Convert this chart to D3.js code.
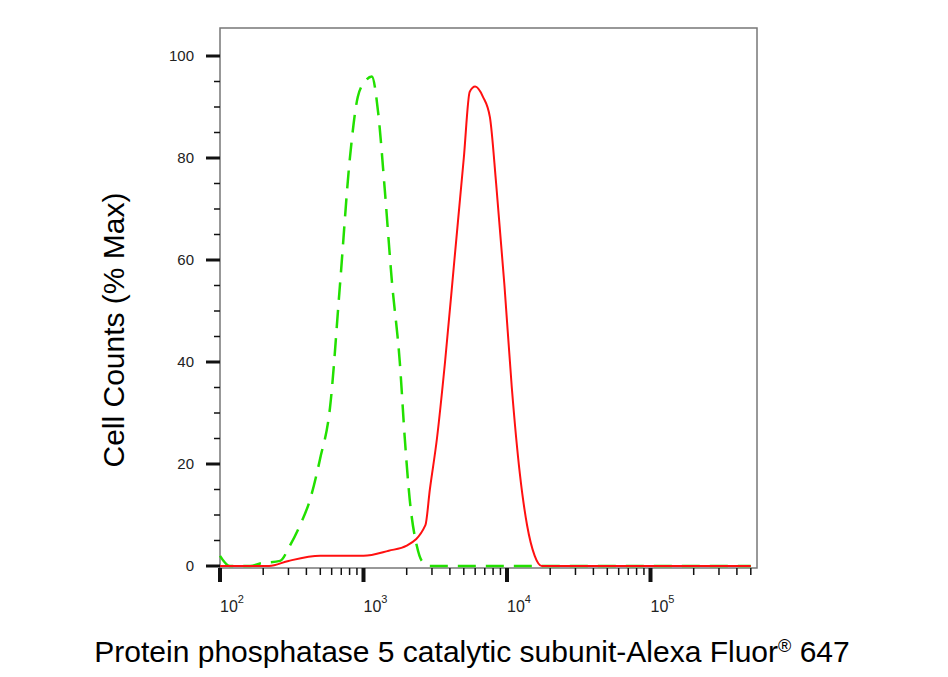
<!DOCTYPE html>
<html><head><meta charset="utf-8">
<script src="https://cdn.jsdelivr.net/npm/d3@7"></script>
<style>body{margin:0;background:#fff;font-family:"Liberation Sans",Arial,sans-serif}</style>
</head><body><div id="chart"></div>
<script>
// green (isotype control) histogram
const greenX = [100,117,162,190,262,307,361,424,498,584,685,804,913,1025,1144,1264,1405,1575,1790,1940,2100,2350,2550,2900,500000];
const greenY = [2,0,0,0.5,1,4,8,13,21,31,55,80,92,95,96,89,74,56,40,25,13,4,1,0,0];
// red (antibody) histogram
const redX = [100,220,300,500,1000,1500,2000,2700,2900,3250,3700,4300,5000,5500,6000,6800,7600,8400,9600,10800,12300,13800,15600,17500,500000];
const redY = [0,0,1,2,2,3,4,8,15,25,40,60,80,93,94,92,88,75,55,35,18,8,2,0,0];
const yTicks = [0,20,40,60,80,100];
const xDecades = [2,3,4,5];

const W = 948, H = 677;
const pLeft = 220, pRight = 757, pTop = 28, pBottom = 568;
const svg = d3.select('#chart').append('svg').attr('width', W).attr('height', H);

const x = d3.scaleLog().domain([100, 100 * Math.pow(10, (pRight - pLeft) / 143.5)]).range([pLeft, pRight]);
const y = d3.scaleLinear().domain([0, 100]).range([566, 56]);

// frame
svg.append('rect').attr('x', pLeft).attr('y', pTop).attr('width', pRight - pLeft).attr('height', pBottom - pTop)
  .attr('fill', 'none').attr('stroke', '#777').attr('stroke-width', 1.5);

// y ticks
for (let v = 0; v <= 100; v += 5) {
  const major = v % 20 === 0;
  svg.append('line').attr('x1', pLeft - (major ? 14 : 6)).attr('x2', pLeft).attr('y1', y(v)).attr('y2', y(v))
    .attr('stroke', '#111').attr('stroke-width', major ? 3 : 1.5);
}
svg.selectAll('.yl').data(yTicks).enter().append('text')
  .attr('x', 194).attr('y', (d) => y(d) + 5).attr('text-anchor', 'end')
  .attr('font-size', 15).attr('fill', '#222').text((d) => d);

// x ticks
const minor = [];
for (let e = 2; e <= 5; e++) for (let m = 1; m <= 9; m++) minor.push({ v: m * Math.pow(10, e), major: m === 1 });
minor.filter((d) => x(d.v) <= pRight).forEach((d) => {
  svg.append('line').attr('x1', x(d.v)).attr('x2', x(d.v)).attr('y1', pBottom).attr('y2', pBottom + (d.major ? 14 : 7))
    .attr('stroke', '#111').attr('stroke-width', d.major ? 4 : 1.5);
});
const xl = svg.selectAll('.xl').data(xDecades).enter().append('text')
  .attr('x', (d) => x(Math.pow(10, d)) + 12).attr('y', 612)
  .attr('text-anchor', 'middle').attr('font-size', 16).attr('fill', '#222');
xl.append('tspan').text('10');
xl.append('tspan').attr('dy', -9).attr('font-size', 11).text((d) => d);

// curves
const line = d3.line().x((d) => x(d[0])).y((d) => y(d[1])).curve(d3.curveMonotoneX);
svg.append('path').datum(greenX.map((v, i) => [v, greenY[i]])).attr('d', line)
  .attr('fill', 'none').attr('stroke', '#22e000').attr('stroke-width', 2.5).attr('stroke-dasharray', '18,10');
svg.append('path').datum(redX.map((v, i) => [v, redY[i]])).attr('d', line)
  .attr('fill', 'none').attr('stroke', '#ff1010').attr('stroke-width', 2);

// axis titles
svg.append('text').attr('transform', 'translate(124,330) rotate(-90)').attr('text-anchor', 'middle')
  .attr('font-size', 30).text('Cell Counts (% Max)');
const xt = svg.append('text').attr('x', 472).attr('y', 662).attr('text-anchor', 'middle').attr('font-size', 30);
xt.append('tspan').text('Protein phosphatase 5 catalytic subunit-Alexa Fluor');
xt.append('tspan').attr('font-size', 18).attr('dy', -10).text('®');
xt.append('tspan').attr('dy', 10).text(' 647');
</script></body></html>
